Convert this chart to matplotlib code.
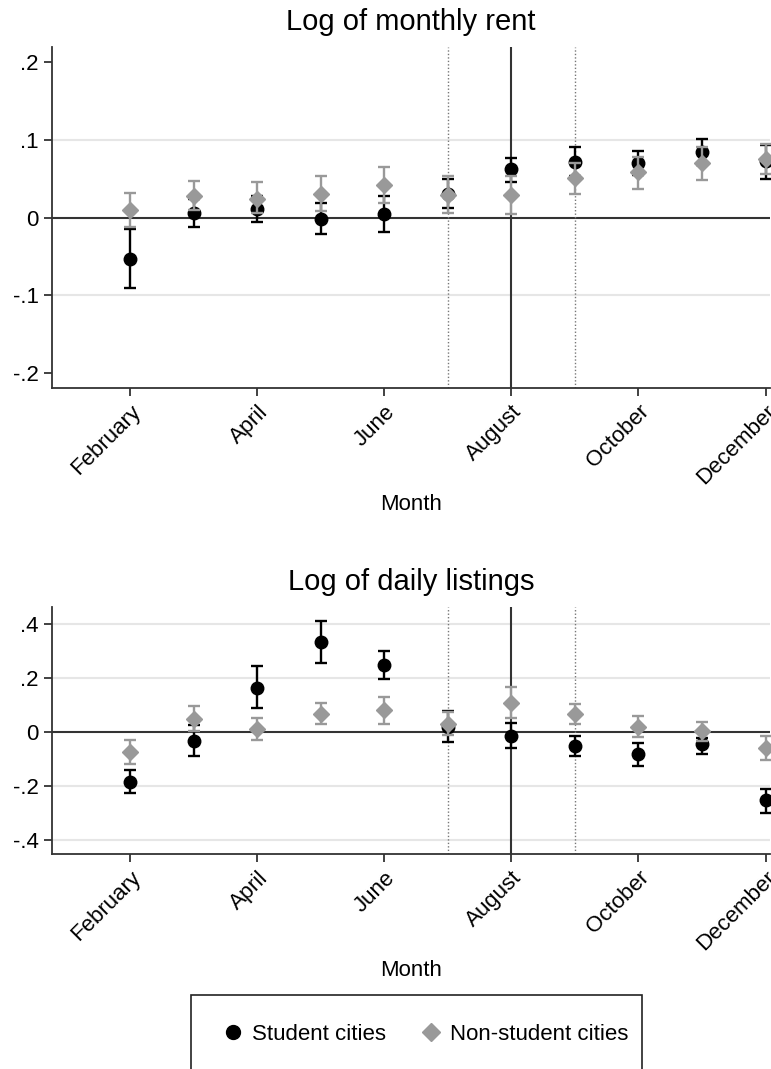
import numpy as np
import matplotlib
matplotlib.use("Agg")
import matplotlib.pyplot as plt
from matplotlib.lines import Line2D
from matplotlib.patches import Rectangle

plt.rcParams['font.family'] = ['Liberation Sans', 'DejaVu Sans']

months = np.arange(2, 13)
tick_months = [2, 4, 6, 8, 10, 12]
tick_labels = ["February", "April", "June", "August", "October", "December"]

# Log of monthly rent
rent_student = [-0.053, 0.006, 0.011, -0.002, 0.005, 0.030, 0.062, 0.071, 0.070, 0.084, 0.072]
rent_student_lo = [-0.091, -0.012, -0.006, -0.021, -0.018, 0.012, 0.045, 0.053, 0.055, 0.068, 0.050]
rent_student_hi = [-0.015, 0.024, 0.028, 0.019, 0.028, 0.050, 0.077, 0.090, 0.086, 0.101, 0.093]
rent_non = [0.009, 0.028, 0.024, 0.030, 0.042, 0.029, 0.029, 0.051, 0.058, 0.070, 0.075]
rent_non_lo = [-0.012, 0.009, 0.006, 0.008, 0.018, 0.006, 0.004, 0.030, 0.036, 0.048, 0.056]
rent_non_hi = [0.031, 0.047, 0.045, 0.053, 0.065, 0.053, 0.053, 0.070, 0.078, 0.091, 0.094]

# Log of daily listings
list_student = [-0.184, -0.033, 0.165, 0.335, 0.247, 0.020, -0.014, -0.051, -0.083, -0.046, -0.254]
list_student_lo = [-0.227, -0.091, 0.088, 0.257, 0.195, -0.036, -0.060, -0.089, -0.125, -0.082, -0.301]
list_student_hi = [-0.141, 0.026, 0.246, 0.411, 0.300, 0.079, 0.032, -0.014, -0.042, -0.023, -0.212]
list_non = [-0.075, 0.049, 0.010, 0.067, 0.082, 0.030, 0.109, 0.067, 0.020, 0.004, -0.058]
list_non_lo = [-0.120, 0.002, -0.030, 0.030, 0.028, -0.011, 0.053, 0.028, -0.020, -0.032, -0.104]
list_non_hi = [-0.030, 0.096, 0.051, 0.106, 0.131, 0.075, 0.166, 0.104, 0.061, 0.038, -0.014]

BLACK = "#000000"
GREY = "#999999"
AXC = "#333333"

def fmt(v):
    if abs(v) < 1e-9:
        return "0"
    s = "%g" % v
    return s.replace("0.", ".")

def panel(ax, title, s, slo, shi, n, nlo, nhi, yticks, ylim, grid):
    ax.set_xlim(0.77, 12.07)
    ax.set_ylim(*ylim)
    for g in grid:
        ax.axhline(g, color="#e6e6e6", lw=1.5, zorder=0)
    ax.axhline(0, color=AXC, lw=1.5, zorder=1)
    ax.axvline(8, color=AXC, lw=1.5, zorder=1)
    for m in (7, 9):
        ax.axvline(m, color="#777777", lw=1.0, ls=(0, (1, 1.5)), zorder=1)
    s = np.array(s); n = np.array(n)
    ax.errorbar(months, s, yerr=[s - np.array(slo), np.array(shi) - s], fmt="o",
                color=BLACK, ms=9, lw=1.7, capsize=4, capthick=1.7, zorder=3)
    ax.errorbar(months, n, yerr=[n - np.array(nlo), np.array(nhi) - n], fmt="D",
                color=GREY, ms=8.5, lw=1.7, capsize=4, capthick=1.7, zorder=4)
    ax.set_title(title, fontsize=21, pad=12)
    ax.set_yticks(yticks)
    ax.set_yticklabels([fmt(v) for v in yticks], fontsize=16)
    ax.set_xticks(tick_months)
    ax.set_xticklabels(tick_labels, rotation=45, ha="right", rotation_mode="anchor", fontsize=16)
    ax.set_xlabel("Month", fontsize=16, labelpad=4)
    for sp in ("top", "right"):
        ax.spines[sp].set_visible(False)
    for sp in ("left", "bottom"):
        ax.spines[sp].set_color(AXC)
        ax.spines[sp].set_linewidth(1.3)
    ax.tick_params(colors=AXC, labelcolor="black", width=1.3, length=6)

fig = plt.figure(figsize=(7.71, 10.69), dpi=100)
W, H = 771.0, 1069.0
ax1 = fig.add_axes([52 / W, 1 - 388 / H, (770 - 52) / W, (388 - 47) / H])
ax2 = fig.add_axes([52 / W, 1 - 854 / H, (770 - 52) / W, (854 - 607) / H])

panel(ax1, "Log of monthly rent", rent_student, rent_student_lo, rent_student_hi,
      rent_non, rent_non_lo, rent_non_hi, [-0.2, -0.1, 0, 0.1, 0.2], (-0.219, 0.219), [-0.1, 0.1])
panel(ax2, "Log of daily listings", list_student, list_student_lo, list_student_hi,
      list_non, list_non_lo, list_non_hi, [-0.4, -0.2, 0, 0.2, 0.4], (-0.453, 0.464), [-0.4, -0.2, 0.2, 0.4])

fig.patches.append(Rectangle((191 / W, -0.01), (642 - 191) / W, 0.01 + (1069 - 995) / H,
                             transform=fig.transFigure, fill=False, ec="#222222", lw=1.2))
handles = [Line2D([], [], ls="", marker="o", color=BLACK, ms=10),
           Line2D([], [], ls="", marker="D", color=GREY, ms=9)]
fig.legend(handles, ["Student cities", "Non-student cities"], loc="center",
           bbox_to_anchor=(424 / W, 1 - 1034 / H), ncol=2, frameon=False, fontsize=16,
           handletextpad=0.25, columnspacing=1.4, handlelength=1.2)

fig.savefig("out.png", dpi=100)
